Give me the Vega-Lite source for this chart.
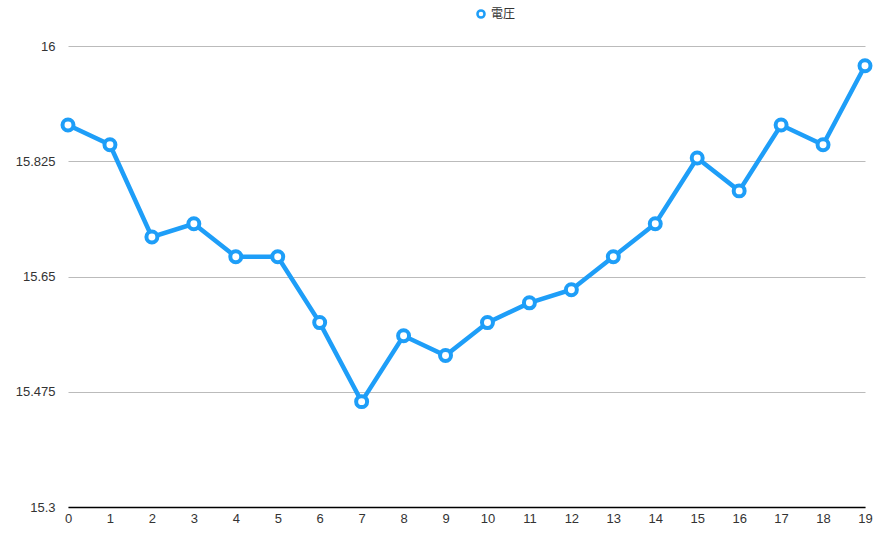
{
  "$schema": "https://vega.github.io/schema/vega-lite/v6.json",
  "autosize": "none",
  "width": 797,
  "height": 461,
  "padding": {"left": 68, "top": 46, "right": 25, "bottom": 29},
  "background": "white",
  "config": {"view": {"stroke": null}, "font": "Liberation Sans"},
  "data": {"values": [
    {"x": 0, "v": 15.88, "s": "電圧"},
    {"x": 1, "v": 15.85, "s": "電圧"},
    {"x": 2, "v": 15.71, "s": "電圧"},
    {"x": 3, "v": 15.73, "s": "電圧"},
    {"x": 4, "v": 15.68, "s": "電圧"},
    {"x": 5, "v": 15.68, "s": "電圧"},
    {"x": 6, "v": 15.58, "s": "電圧"},
    {"x": 7, "v": 15.46, "s": "電圧"},
    {"x": 8, "v": 15.56, "s": "電圧"},
    {"x": 9, "v": 15.53, "s": "電圧"},
    {"x": 10, "v": 15.58, "s": "電圧"},
    {"x": 11, "v": 15.61, "s": "電圧"},
    {"x": 12, "v": 15.63, "s": "電圧"},
    {"x": 13, "v": 15.68, "s": "電圧"},
    {"x": 14, "v": 15.73, "s": "電圧"},
    {"x": 15, "v": 15.83, "s": "電圧"},
    {"x": 16, "v": 15.78, "s": "電圧"},
    {"x": 17, "v": 15.88, "s": "電圧"},
    {"x": 18, "v": 15.85, "s": "電圧"},
    {"x": 19, "v": 15.97, "s": "電圧"}
  ]},
  "encoding": {
    "x": {"field": "x", "type": "quantitative",
      "scale": {"domain": [0, 19], "nice": false, "zero": false},
      "axis": {"title": null, "grid": false, "ticks": false, "domainColor": "#000000", "domainWidth": 1.5,
        "values": [0,1,2,3,4,5,6,7,8,9,10,11,12,13,14,15,16,17,18,19],
        "labelFontSize": 13, "labelColor": "#333333", "labelPadding": 5, "labelFlush": false}},
    "y": {"field": "v", "type": "quantitative",
      "scale": {"domain": [15.3, 16], "nice": false, "zero": false},
      "axis": {"title": null, "domain": false, "ticks": false, "grid": true, "gridColor": "#BBBBBB", "gridWidth": 1,
        "values": [15.3, 15.475, 15.65, 15.825, 16], "format": ".3~f",
        "labelFontSize": 13, "labelColor": "#333333", "labelPadding": 13}}
  },
  "layer": [
    {"mark": {"type": "line", "color": "#1E9EF8", "strokeWidth": 4.5}},
    {"mark": {"type": "point", "shape": "circle", "filled": false, "fill": "white", "strokeWidth": 4, "size": 120, "opacity": 1},
      "encoding": {"color": {"field": "s", "type": "nominal", "scale": {"range": ["#1E9EF8"]},
        "legend": {"title": null, "orient": "none", "legendX": 407, "legendY": -38, "direction": "horizontal",
          "labelFont": "Noto Sans CJK JP", "labelFontSize": 12, "labelColor": "#333333",
          "symbolType": "circle", "symbolSize": 50, "symbolStrokeWidth": 2.5, "symbolFillColor": "white"}}}}
  ]
}
